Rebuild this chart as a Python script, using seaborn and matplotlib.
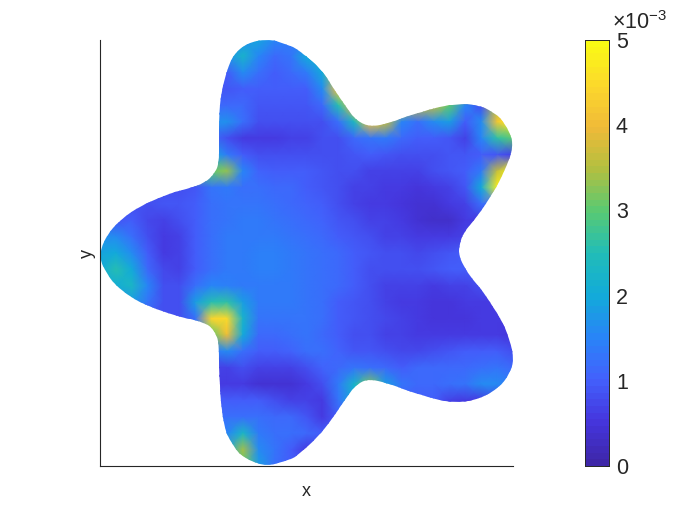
import numpy as np
import seaborn as sns
import matplotlib.pyplot as plt
from matplotlib.colors import LinearSegmentedColormap
from matplotlib.patches import PathPatch
from matplotlib.path import Path

# error field, units of 1e-3, top row first
field = [
    [1.5,1.5,1.5,1.5,1.5,1.5,1.5,1.5,1.6,1.7,1.9,1.5,1.4,1.4,1.4,1.4,1.4,1.4,1.4,1.4,1.4,1.4,1.4,1.4,1.4,1.4,1.4],
    [1.6,1.6,1.6,1.6,1.6,1.6,1.6,1.6,1.7,2.2,1.5,1.1,1.3,2.0,2.2,2.2,2.2,2.2,2.2,2.2,2.2,2.2,2.2,2.2,2.2,2.2,2.2],
    [1.0,1.0,1.0,1.0,1.0,1.0,1.0,1.0,1.0,1.6,1.2,1.0,1.1,1.4,2.0,3.5,3.5,3.5,3.5,3.5,3.5,3.5,3.5,3.5,3.5,3.5,3.5],
    [0.9,0.9,0.9,0.9,0.9,0.9,0.9,0.9,0.9,1.0,1.0,1.0,1.0,1.0,1.6,4.2,4.2,4.2,4.2,4.2,4.2,4.2,4.2,4.2,4.2,4.2,4.2],
    [1.1,1.1,1.1,1.1,1.1,1.1,1.1,1.1,1.1,1.1,0.9,0.9,0.9,0.9,1.1,2.5,4.0,4.0,4.0,3.6,3.6,3.6,3.0,1.5,0.8,3.4,4.0],
    [1.6,1.6,1.6,1.6,1.6,1.6,1.6,1.6,1.7,1.2,0.8,0.8,0.8,0.8,0.8,1.2,2.4,4.2,3.6,1.5,1.2,1.6,1.8,1.0,1.6,4.2,4.8],
    [1.2,1.2,1.2,1.2,1.2,1.2,1.2,1.2,0.8,0.6,0.6,0.6,0.7,0.7,0.8,0.8,1.1,1.3,1.4,1.1,1.0,1.0,0.9,0.7,1.5,2.6,3.0],
    [2.0,2.0,2.0,2.0,2.0,2.0,2.0,2.0,1.4,1.0,0.8,0.8,0.8,0.8,0.8,0.8,0.9,1.0,0.9,0.8,0.8,0.8,0.9,0.9,1.0,0.9,0.7],
    [3.0,3.0,3.0,3.0,3.0,3.0,3.0,3.0,3.3,1.5,1.05,1.0,1.0,0.95,0.9,0.8,0.8,0.7,0.7,0.7,0.7,0.8,0.9,1.0,1.4,3.6,5.0],
    [0.8,0.8,0.8,0.8,0.8,0.8,0.9,1.3,1.4,1.2,1.2,1.15,1.1,1.0,0.9,0.8,0.7,0.65,0.6,0.55,0.5,0.6,0.7,0.9,2.0,4.8,5.0],
    [0.8,0.8,0.8,0.8,0.9,0.9,1.0,1.2,1.25,1.25,1.25,1.2,1.15,1.05,0.95,0.8,0.7,0.6,0.55,0.5,0.4,0.45,0.6,0.7,1.2,1.2,1.2],
    [0.9,0.9,1.0,0.75,0.7,0.8,1.0,1.2,1.3,1.35,1.35,1.3,1.2,1.15,1.05,0.9,0.8,0.7,0.65,0.55,0.45,0.35,0.35,0.6,0.6,0.6,0.6],
    [1.7,1.6,1.2,0.85,0.55,0.65,0.95,1.2,1.35,1.4,1.4,1.4,1.3,1.2,1.1,1.0,0.9,0.8,0.7,0.65,0.6,0.55,0.6,0.7,0.7,0.7,0.7],
    [1.9,2.0,1.6,1.0,0.6,0.7,0.95,1.2,1.35,1.4,1.45,1.45,1.35,1.3,1.2,1.1,1.0,0.9,0.8,0.8,0.75,0.8,0.9,1.0,1.0,1.0,1.0],
    [2.0,2.5,2.0,1.1,0.75,0.7,0.95,1.2,1.35,1.4,1.45,1.45,1.35,1.3,1.2,1.1,1.0,0.8,0.8,0.8,0.8,0.9,1.0,1.0,1.0,1.0,1.0],
    [2.0,2.1,2.3,1.5,0.8,0.8,1.2,1.5,1.45,1.4,1.4,1.4,1.35,1.3,1.2,1.1,1.0,0.8,0.7,0.7,0.65,0.6,0.65,0.7,0.8,0.8,0.8],
    [1.5,1.5,1.8,1.3,0.8,0.85,1.8,2.5,2.6,1.8,1.35,1.35,1.35,1.3,1.2,1.0,0.9,0.8,0.7,0.6,0.55,0.5,0.5,0.55,0.6,0.6,0.6],
    [0.8,0.8,0.8,0.8,0.8,0.8,1.2,4.4,4.5,2.2,1.3,1.25,1.3,1.3,1.2,1.0,0.9,0.85,0.75,0.65,0.6,0.5,0.5,0.5,0.55,0.6,0.6],
    [1.5,1.5,1.5,1.5,1.5,1.5,1.5,3.0,4.0,2.0,1.15,1.15,1.2,1.25,1.15,1.0,0.85,0.8,0.7,0.65,0.6,0.55,0.55,0.55,0.55,0.6,0.5],
    [1.3,1.3,1.3,1.3,1.3,1.3,1.3,1.3,1.6,1.2,0.95,0.95,1.05,1.2,1.2,1.05,0.9,0.9,0.8,0.75,0.75,0.8,0.9,1.0,1.0,1.0,0.8],
    [0.7,0.7,0.7,0.7,0.7,0.7,0.7,0.7,0.7,0.85,0.7,0.65,0.7,0.85,1.05,1.1,1.3,1.2,1.1,1.0,1.1,1.1,1.1,1.1,1.2,1.3,1.1],
    [0.6,0.6,0.6,0.6,0.6,0.6,0.6,0.6,0.55,0.6,0.45,0.4,0.45,0.55,0.8,1.4,2.2,3.2,1.8,1.3,1.1,1.1,1.2,1.3,1.6,1.6,1.4],
    [1.0,1.0,1.0,1.0,1.0,1.0,1.0,1.0,1.0,1.0,0.95,0.8,0.7,0.65,0.55,1.3,2.0,2.0,1.3,1.0,1.0,1.0,0.7,0.6,0.6,0.8,0.8],
    [1.2,1.2,1.2,1.2,1.2,1.2,1.2,1.2,1.2,1.2,1.2,1.15,1.1,0.9,0.55,1.0,1.0,1.0,1.0,1.0,1.0,1.0,1.0,1.0,1.0,1.0,1.0],
    [1.5,1.5,1.5,1.5,1.5,1.5,1.5,1.5,1.5,2.3,1.4,1.2,1.2,1.1,1.0,1.0,1.0,1.0,1.0,1.0,1.0,1.0,1.0,1.0,1.0,1.0,1.0],
    [2.0,2.0,2.0,2.0,2.0,2.0,2.0,2.0,2.0,3.4,1.6,1.3,1.0,0.6,0.6,0.6,0.6,0.6,0.6,0.6,0.6,0.6,0.6,0.6,0.6,0.6,0.6],
    [2.0,2.0,2.0,2.0,2.0,2.0,2.0,2.0,2.0,3.0,1.8,1.2,1.0,0.8,0.8,0.8,0.8,0.8,0.8,0.8,0.8,0.8,0.8,0.8,0.8,0.8,0.8],
]

# outline of the domain, measured on the 700x525 picture
outline_x = [267, 247, 233, 226.7, 221, 219.3, 219.3, 219.3, 215, 205, 186.7, 163, 140, 120, 106.7, 101,
             100.5, 101, 105, 115, 130, 150, 173, 196.7, 210, 216.7, 219.3, 219.3, 220, 223, 231.7, 246.7,
             266.7, 290, 300, 316.7, 333, 346.7, 358, 370, 386.7, 410, 433, 456.7, 480, 500, 510, 513.5,
             510, 500, 486.7, 473, 463, 459.3, 459.3, 463, 476.7, 493, 505, 511.7, 513, 505, 493, 476.7,
             456.7, 433, 410, 390, 370, 358, 346.7, 333, 320, 306.7, 300, 285]
outline_y = [38.5, 43.3, 55, 70, 93, 116.7, 143, 163, 173, 182.7, 189, 195.7, 206, 220, 235, 248,
             255, 262, 270, 285, 296.7, 306.7, 315, 320, 325, 335, 346.7, 373, 396.7, 423, 445, 460,
             466.5, 460, 453, 438, 418, 396.7, 383, 379, 383, 391.7, 399, 402.5, 399, 386.7, 373, 360,
             340, 316.7, 296.7, 280, 265, 255, 246.7, 233, 216.7, 193, 170, 153, 140, 123, 111.7, 105,
             103.5, 108, 115, 123, 126.7, 121.7, 108, 88, 68, 56.7, 50.7, 43.5]

cbar_ticks = [0, 1, 2, 3, 4, 5]

parula = LinearSegmentedColormap.from_list("parula", [
    (0.00, (0.2422, 0.1504, 0.6603)), (0.10, (0.27, 0.21, 0.87)), (0.20, (0.26, 0.38, 0.99)),
    (0.30, (0.16, 0.52, 0.97)), (0.40, (0.07, 0.67, 0.85)), (0.50, (0.13, 0.74, 0.72)),
    (0.60, (0.35, 0.79, 0.45)), (0.70, (0.70, 0.75, 0.25)), (0.80, (0.94, 0.73, 0.22)),
    (0.90, (0.99, 0.85, 0.17)), (1.00, (0.977, 0.984, 0.08)),
], N=64)

sns.set_theme(style="white")
plt.rcParams["font.family"] = ["Liberation Sans", "DejaVu Sans"]
plt.rcParams["mathtext.default"] = "regular"

W, H = 700, 525
fig = plt.figure(figsize=(7, 5.25), dpi=100)
ax = fig.add_axes([100 / W, 1 - 466 / H, 413 / W, 426 / H])
cax = fig.add_axes([585 / W, 1 - 466 / H, 24 / W, 426 / H])

field = np.array(field)
n_rows, n_cols = field.shape

ax = sns.heatmap(field, ax=ax, cbar_ax=cax, cmap=parula, vmin=0, vmax=5,
                 shading="gouraud", xticklabels=False, yticklabels=False,
                 cbar_kws={"ticks": cbar_ticks})
ax.set_xlim(0, n_cols - 1)
ax.set_ylim(n_rows - 1, 0)

# keep only the star shaped domain, outline points act as spline controls
px = (np.array(outline_x) - 100) / 413 * (n_cols - 1)
py = (np.array(outline_y) - 40) / 426 * (n_rows - 1)
pts = np.column_stack([px, py])
mids = (pts + np.roll(pts, -1, axis=0)) / 2
verts = [mids[-1]]
codes = [Path.MOVETO]
for p, m in zip(pts, mids):
    verts += [p, m]
    codes += [Path.CURVE3, Path.CURVE3]
clip = PathPatch(Path(verts, codes), transform=ax.transData)
ax.collections[0].set_clip_path(clip)

for side in ["top", "right"]:
    ax.spines[side].set_visible(False)
for side in ["left", "bottom"]:
    ax.spines[side].set_visible(True)
    ax.spines[side].set_color("#262626")
    ax.spines[side].set_linewidth(0.8)

ax.set_xlabel("x", fontsize=13, color="#262626", labelpad=12)
ax.set_ylabel("y", fontsize=13, color="#262626", labelpad=3)

cax.tick_params(direction="in", length=3, width=0.6, right=True, labelsize=15.5,
                labelcolor="#262626", color="#262626", pad=5)
for s in cax.spines.values():
    s.set_visible(True)
    s.set_color("#262626")
    s.set_linewidth(0.6)

fig.text(612 / W, 1 - 29 / H, r"$\times$10$^{-3}$", fontsize=15.5, color="#262626",
         ha="left", va="baseline")

fig.savefig("out.png", dpi=100)
